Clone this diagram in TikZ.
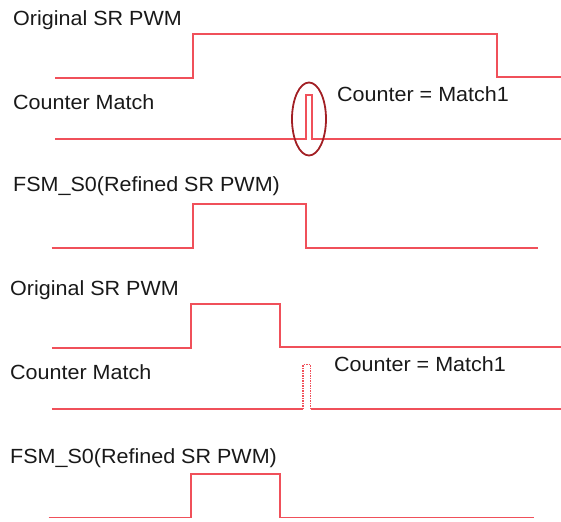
\documentclass[tikz,border=0pt]{standalone}
\usepackage{fontspec}
\setmainfont{Liberation Sans}[FakeStretch=1.05]
\definecolor{pwmred}{HTML}{F0505A}
\definecolor{ringred}{HTML}{A21F24}

\begin{document}
\begin{tikzpicture}[x=1pt, y=-1pt]
			\tikzstyle{every node}=[anchor=base west, inner sep=0pt, font=\fontsize{20.5}{24}\selectfont, text=black!90]
			\tikzstyle{signal}=[draw=pwmred, line width=1.8pt]
				\useasboundingbox (0,0) rectangle (561,521);

				% refined PWM, long original pulse
				\node (orig1) at (13, 26) {Original SR PWM};
				\node (cm1) at (13, 109.3) {Counter Match};
				\node (match1) at (337, 101.5) {Counter = Match1};
				\node (fsm1) at (13, 191.7) {FSM\_S0(Refined SR PWM)};

				\draw[signal]  (55, 78.3) -- (192.7, 78.3) -- (192.7, 34.3) -- (497.3, 34.3) -- (497.3, 76.7) -- (561, 76.7);
				\draw[signal]  (55, 139.3) -- (306, 139.3) -- (306, 95) -- (312, 95) -- (312, 139.3) -- (561, 139.3);
				\draw[draw=ringred, line width=1.8pt]  (309, 119) ellipse [x radius=17pt, y radius=36.5pt];
				\draw[signal]  (51.7, 248.3) -- (192.7, 248.3) -- (192.7, 204.3) -- (306, 204.3) -- (306, 248.3) -- (538.3, 248.3);

				% short original pulse, no match inside
				\node (orig2) at (10, 295.7) {Original SR PWM};
				\node (cm2) at (10, 379.3) {Counter Match};
				\node (match2) at (334, 371.7) {Counter = Match1};
				\node (fsm2) at (10, 463.3) {FSM\_S0(Refined SR PWM)};

				\draw[signal]  (51.8, 348.3) -- (190.7, 348.3) -- (190.7, 304.3) -- (280, 304.3) -- (280, 347.3) -- (561, 347.3);
				\draw[signal]  (51.8, 409) -- (303, 409);
				\draw[signal, dash pattern=on 1.5pt off 1pt]  (303, 409) -- (303, 364.5) -- (310.5, 364.5) -- (310.5, 409);
				\draw[signal]  (310.5, 409) -- (561, 409);
				\draw[signal]  (48.5, 517.5) -- (190.7, 517.5) -- (190.7, 474) -- (280, 474) -- (280, 517.5) -- (534, 517.5);
			\end{tikzpicture}
\end{document}
